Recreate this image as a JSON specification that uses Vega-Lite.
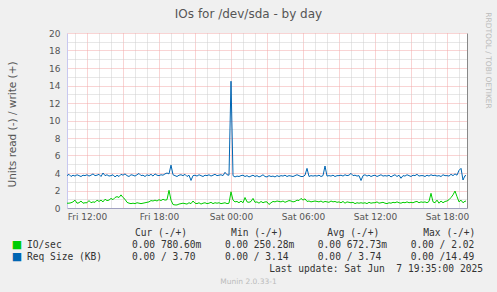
{
"$schema": "https://vega.github.io/schema/vega-lite/v6.json",
"width": 400, "height": 175,
"autosize": {"type": "none"},
"padding": {"left": 67, "top": 33, "right": 30, "bottom": 84},
"background": "#F0F0F0",
"config": {"font": "DejaVu Sans", "view": {"fill": "white", "stroke": null}},
"title": {"text": "IOs for /dev/sda - by day", "frame": "group", "anchor": "middle", "dx": -18.5, "fontSize": 12, "fontWeight": "normal", "color": "#555555", "font": "DejaVu Sans", "offset": -9},
"layer": [
{
"data": {"format": {"parse": {"t": "utc:'%Y-%m-%d %H:%M'"}}, "values": [
{"t":"2025-06-06 10:20","io":0.55,"rq":3.7},{"t":"2025-06-06 10:30","io":0.55,"rq":3.85},{"t":"2025-06-06 10:40","io":0.6,"rq":3.6},{"t":"2025-06-06 10:50","io":0.7,"rq":3.75},
{"t":"2025-06-06 11:00","io":0.9,"rq":3.65},{"t":"2025-06-06 11:10","io":0.55,"rq":3.8},{"t":"2025-06-06 11:20","io":0.6,"rq":3.7},{"t":"2025-06-06 11:30","io":0.8,"rq":3.6},{"t":"2025-06-06 11:40","io":0.55,"rq":3.75},{"t":"2025-06-06 11:50","io":0.6,"rq":3.7},
{"t":"2025-06-06 12:00","io":0.6,"rq":3.8},{"t":"2025-06-06 12:10","io":0.85,"rq":3.65},{"t":"2025-06-06 12:20","io":0.6,"rq":3.75},{"t":"2025-06-06 12:30","io":0.7,"rq":3.9},{"t":"2025-06-06 12:40","io":0.65,"rq":3.7},{"t":"2025-06-06 12:50","io":0.9,"rq":3.75},
{"t":"2025-06-06 13:00","io":0.75,"rq":3.85},{"t":"2025-06-06 13:10","io":0.9,"rq":3.6},{"t":"2025-06-06 13:20","io":0.7,"rq":4.0},{"t":"2025-06-06 13:30","io":1.0,"rq":3.7},{"t":"2025-06-06 13:40","io":0.85,"rq":3.8},{"t":"2025-06-06 13:50","io":0.9,"rq":3.65},
{"t":"2025-06-06 14:00","io":1.1,"rq":3.7},{"t":"2025-06-06 14:10","io":0.95,"rq":3.8},{"t":"2025-06-06 14:20","io":1.2,"rq":3.55},{"t":"2025-06-06 14:30","io":1.3,"rq":3.75},{"t":"2025-06-06 14:40","io":1.2,"rq":3.6},{"t":"2025-06-06 14:50","io":1.5,"rq":3.85},
{"t":"2025-06-06 15:00","io":1.2,"rq":3.75},{"t":"2025-06-06 15:10","io":1.0,"rq":3.9},{"t":"2025-06-06 15:20","io":0.65,"rq":3.7},{"t":"2025-06-06 15:30","io":0.55,"rq":3.6},{"t":"2025-06-06 15:40","io":0.5,"rq":3.8},{"t":"2025-06-06 15:50","io":0.55,"rq":3.75},
{"t":"2025-06-06 16:00","io":0.5,"rq":3.65},{"t":"2025-06-06 16:10","io":0.6,"rq":3.8},{"t":"2025-06-06 16:20","io":0.55,"rq":3.95},{"t":"2025-06-06 16:30","io":0.5,"rq":3.7},{"t":"2025-06-06 16:40","io":0.55,"rq":3.75},{"t":"2025-06-06 16:50","io":0.6,"rq":3.6},
{"t":"2025-06-06 17:00","io":0.65,"rq":3.8},{"t":"2025-06-06 17:10","io":0.7,"rq":3.7},{"t":"2025-06-06 17:20","io":0.85,"rq":3.85},{"t":"2025-06-06 17:30","io":0.8,"rq":3.65},{"t":"2025-06-06 17:40","io":0.9,"rq":3.9},{"t":"2025-06-06 17:50","io":0.8,"rq":3.75},
{"t":"2025-06-06 18:00","io":0.95,"rq":3.7},{"t":"2025-06-06 18:10","io":0.85,"rq":3.8},{"t":"2025-06-06 18:20","io":1.0,"rq":3.75},{"t":"2025-06-06 18:30","io":0.9,"rq":3.9},{"t":"2025-06-06 18:40","io":0.95,"rq":4.0},{"t":"2025-06-06 18:50","io":2.02,"rq":3.9},
{"t":"2025-06-06 19:00","io":0.9,"rq":4.9},{"t":"2025-06-06 19:10","io":0.4,"rq":3.8},{"t":"2025-06-06 19:20","io":0.35,"rq":3.7},{"t":"2025-06-06 19:30","io":0.35,"rq":3.6},{"t":"2025-06-06 19:40","io":0.45,"rq":3.75},{"t":"2025-06-06 19:50","io":0.5,"rq":3.8},
{"t":"2025-06-06 20:00","io":0.55,"rq":3.7},{"t":"2025-06-06 20:10","io":0.5,"rq":3.85},{"t":"2025-06-06 20:20","io":0.45,"rq":3.6},{"t":"2025-06-06 20:30","io":0.6,"rq":3.75},{"t":"2025-06-06 20:40","io":0.5,"rq":3.15},{"t":"2025-06-06 20:50","io":0.8,"rq":3.7},
{"t":"2025-06-06 21:00","io":0.55,"rq":3.75},{"t":"2025-06-06 21:10","io":0.5,"rq":3.65},{"t":"2025-06-06 21:20","io":0.6,"rq":3.8},{"t":"2025-06-06 21:30","io":0.45,"rq":3.7},{"t":"2025-06-06 21:40","io":0.55,"rq":3.6},{"t":"2025-06-06 21:50","io":0.6,"rq":3.75},
{"t":"2025-06-06 22:00","io":0.5,"rq":3.7},{"t":"2025-06-06 22:10","io":0.55,"rq":3.8},{"t":"2025-06-06 22:20","io":0.65,"rq":3.65},{"t":"2025-06-06 22:30","io":0.5,"rq":3.75},{"t":"2025-06-06 22:40","io":0.6,"rq":3.85},{"t":"2025-06-06 22:50","io":0.55,"rq":3.7},
{"t":"2025-06-06 23:00","io":0.6,"rq":3.75},{"t":"2025-06-06 23:10","io":0.5,"rq":3.8},{"t":"2025-06-06 23:20","io":0.55,"rq":3.7},{"t":"2025-06-06 23:30","io":0.6,"rq":4.08},{"t":"2025-06-06 23:40","io":0.5,"rq":3.8},{"t":"2025-06-06 23:50","io":0.55,"rq":3.75},
{"t":"2025-06-07 00:00","io":1.85,"rq":14.49},{"t":"2025-06-07 00:10","io":0.9,"rq":3.7},{"t":"2025-06-07 00:20","io":0.7,"rq":3.55},{"t":"2025-06-07 00:30","io":0.75,"rq":3.65},{"t":"2025-06-07 00:40","io":0.6,"rq":3.6},{"t":"2025-06-07 00:50","io":0.8,"rq":3.7},
{"t":"2025-06-07 01:00","io":0.6,"rq":3.75},{"t":"2025-06-07 01:10","io":1.2,"rq":3.6},{"t":"2025-06-07 01:20","io":0.7,"rq":3.7},{"t":"2025-06-07 01:30","io":0.65,"rq":3.55},{"t":"2025-06-07 01:40","io":0.75,"rq":3.65},{"t":"2025-06-07 01:50","io":1.1,"rq":3.75},
{"t":"2025-06-07 02:00","io":0.65,"rq":3.6},{"t":"2025-06-07 02:10","io":0.7,"rq":3.7},{"t":"2025-06-07 02:20","io":0.55,"rq":3.55},{"t":"2025-06-07 02:30","io":0.75,"rq":3.65},{"t":"2025-06-07 02:40","io":0.6,"rq":3.8},{"t":"2025-06-07 02:50","io":0.7,"rq":3.6},
{"t":"2025-06-07 03:00","io":0.7,"rq":3.55},{"t":"2025-06-07 03:10","io":0.4,"rq":3.7},{"t":"2025-06-07 03:20","io":0.6,"rq":3.6},{"t":"2025-06-07 03:30","io":0.75,"rq":3.65},{"t":"2025-06-07 03:40","io":0.7,"rq":3.55},{"t":"2025-06-07 03:50","io":0.8,"rq":3.7},
{"t":"2025-06-07 04:00","io":0.75,"rq":3.6},{"t":"2025-06-07 04:10","io":0.7,"rq":3.7},{"t":"2025-06-07 04:20","io":0.8,"rq":3.65},{"t":"2025-06-07 04:30","io":0.65,"rq":3.75},{"t":"2025-06-07 04:40","io":0.75,"rq":3.6},{"t":"2025-06-07 04:50","io":0.85,"rq":3.7},
{"t":"2025-06-07 05:00","io":0.8,"rq":3.65},{"t":"2025-06-07 05:10","io":0.7,"rq":3.6},{"t":"2025-06-07 05:20","io":0.75,"rq":3.7},{"t":"2025-06-07 05:30","io":0.9,"rq":3.8},{"t":"2025-06-07 05:40","io":0.85,"rq":3.7},{"t":"2025-06-07 05:50","io":1.1,"rq":3.6},
{"t":"2025-06-07 06:00","io":0.9,"rq":3.6},{"t":"2025-06-07 06:10","io":1.05,"rq":3.75},{"t":"2025-06-07 06:20","io":0.75,"rq":4.53},{"t":"2025-06-07 06:30","io":0.8,"rq":3.6},{"t":"2025-06-07 06:40","io":0.7,"rq":3.7},{"t":"2025-06-07 06:50","io":0.75,"rq":3.65},
{"t":"2025-06-07 07:00","io":0.8,"rq":3.7},{"t":"2025-06-07 07:10","io":0.75,"rq":3.65},{"t":"2025-06-07 07:20","io":0.7,"rq":3.75},{"t":"2025-06-07 07:30","io":0.8,"rq":3.6},{"t":"2025-06-07 07:40","io":0.65,"rq":3.7},{"t":"2025-06-07 07:50","io":0.75,"rq":4.8},
{"t":"2025-06-07 08:00","io":0.7,"rq":3.65},{"t":"2025-06-07 08:10","io":0.65,"rq":3.7},{"t":"2025-06-07 08:20","io":0.8,"rq":3.65},{"t":"2025-06-07 08:30","io":0.7,"rq":3.75},{"t":"2025-06-07 08:40","io":0.75,"rq":3.6},{"t":"2025-06-07 08:50","io":0.65,"rq":3.7},
{"t":"2025-06-07 09:00","io":0.7,"rq":3.7},{"t":"2025-06-07 09:10","io":0.6,"rq":3.75},{"t":"2025-06-07 09:20","io":0.75,"rq":3.65},{"t":"2025-06-07 09:30","io":0.55,"rq":3.8},{"t":"2025-06-07 09:40","io":0.7,"rq":3.7},{"t":"2025-06-07 09:50","io":0.65,"rq":3.75},
{"t":"2025-06-07 10:00","io":0.6,"rq":3.96},{"t":"2025-06-07 10:10","io":0.65,"rq":3.7},{"t":"2025-06-07 10:20","io":0.5,"rq":3.75},{"t":"2025-06-07 10:30","io":0.6,"rq":3.65},{"t":"2025-06-07 10:40","io":0.55,"rq":3.7},{"t":"2025-06-07 10:50","io":0.6,"rq":3.14},
{"t":"2025-06-07 11:00","io":0.55,"rq":3.7},{"t":"2025-06-07 11:10","io":0.6,"rq":3.8},{"t":"2025-06-07 11:20","io":0.5,"rq":3.65},{"t":"2025-06-07 11:30","io":0.65,"rq":3.75},{"t":"2025-06-07 11:40","io":0.55,"rq":3.6},{"t":"2025-06-07 11:50","io":0.6,"rq":3.7},
{"t":"2025-06-07 12:00","io":0.6,"rq":3.75},{"t":"2025-06-07 12:10","io":0.7,"rq":3.6},{"t":"2025-06-07 12:20","io":0.55,"rq":3.7},{"t":"2025-06-07 12:30","io":0.6,"rq":3.8},{"t":"2025-06-07 12:40","io":0.65,"rq":3.65},{"t":"2025-06-07 12:50","io":0.55,"rq":3.7},
{"t":"2025-06-07 13:00","io":0.5,"rq":3.65},{"t":"2025-06-07 13:10","io":0.6,"rq":3.75},{"t":"2025-06-07 13:20","io":0.55,"rq":3.55},{"t":"2025-06-07 13:30","io":0.65,"rq":3.7},{"t":"2025-06-07 13:40","io":0.6,"rq":3.8},{"t":"2025-06-07 13:50","io":0.7,"rq":3.6},
{"t":"2025-06-07 14:00","io":0.6,"rq":3.75},{"t":"2025-06-07 14:10","io":0.55,"rq":3.4},{"t":"2025-06-07 14:20","io":0.65,"rq":3.7},{"t":"2025-06-07 14:30","io":0.6,"rq":3.65},{"t":"2025-06-07 14:40","io":0.7,"rq":3.8},{"t":"2025-06-07 14:50","io":0.6,"rq":3.7},
{"t":"2025-06-07 15:00","io":0.65,"rq":3.6},{"t":"2025-06-07 15:10","io":0.6,"rq":3.75},{"t":"2025-06-07 15:20","io":0.7,"rq":3.7},{"t":"2025-06-07 15:30","io":0.75,"rq":3.85},{"t":"2025-06-07 15:40","io":0.6,"rq":3.65},{"t":"2025-06-07 15:50","io":0.7,"rq":3.7},
{"t":"2025-06-07 16:00","io":0.65,"rq":3.7},{"t":"2025-06-07 16:10","io":0.7,"rq":3.6},{"t":"2025-06-07 16:20","io":0.6,"rq":3.75},{"t":"2025-06-07 16:30","io":0.75,"rq":3.65},{"t":"2025-06-07 16:40","io":1.68,"rq":3.8},{"t":"2025-06-07 16:50","io":0.7,"rq":3.7},
{"t":"2025-06-07 17:00","io":0.6,"rq":3.75},{"t":"2025-06-07 17:10","io":0.9,"rq":3.65},{"t":"2025-06-07 17:20","io":0.55,"rq":3.7},{"t":"2025-06-07 17:30","io":0.8,"rq":3.6},{"t":"2025-06-07 17:40","io":0.6,"rq":3.8},{"t":"2025-06-07 17:50","io":0.75,"rq":3.7},
{"t":"2025-06-07 18:00","io":0.8,"rq":3.7},{"t":"2025-06-07 18:10","io":0.95,"rq":3.65},{"t":"2025-06-07 18:20","io":1.2,"rq":3.85},{"t":"2025-06-07 18:30","io":1.5,"rq":3.7},{"t":"2025-06-07 18:40","io":1.94,"rq":3.9},{"t":"2025-06-07 18:50","io":1.3,"rq":3.75},
{"t":"2025-06-07 19:00","io":0.7,"rq":4.3},{"t":"2025-06-07 19:10","io":0.9,"rq":4.53},{"t":"2025-06-07 19:20","io":0.6,"rq":3.2},{"t":"2025-06-07 19:30","io":0.78,"rq":3.7},{"t":"2025-06-07 19:35","io":0.78,"rq":3.7}
]},
"transform": [{"fold": ["io", "rq"], "as": ["series", "v"]}],
"layer": [
{
"mark": {"type": "line", "strokeWidth": 1, "interpolate": "linear"},
"encoding": {
"x": {"field": "t", "type": "temporal",
 "scale": {"type": "utc", "domain": [{"year": 2025, "month": 6, "date": 6, "hours": 10, "minutes": 20, "utc": true}, {"year": 2025, "month": 6, "date": 7, "hours": 19, "minutes": 40, "utc": true}], "nice": false},
 "axis": {"title": null,
  "values": [
   {"year": 2025, "month": 6, "date": 6, "hours": 11, "utc": true}, {"year": 2025, "month": 6, "date": 6, "hours": 12, "utc": true},
   {"year": 2025, "month": 6, "date": 6, "hours": 13, "utc": true}, {"year": 2025, "month": 6, "date": 6, "hours": 14, "utc": true},
   {"year": 2025, "month": 6, "date": 6, "hours": 15, "utc": true}, {"year": 2025, "month": 6, "date": 6, "hours": 16, "utc": true},
   {"year": 2025, "month": 6, "date": 6, "hours": 17, "utc": true}, {"year": 2025, "month": 6, "date": 6, "hours": 18, "utc": true},
   {"year": 2025, "month": 6, "date": 6, "hours": 19, "utc": true}, {"year": 2025, "month": 6, "date": 6, "hours": 20, "utc": true},
   {"year": 2025, "month": 6, "date": 6, "hours": 21, "utc": true}, {"year": 2025, "month": 6, "date": 6, "hours": 22, "utc": true},
   {"year": 2025, "month": 6, "date": 6, "hours": 23, "utc": true}, {"year": 2025, "month": 6, "date": 7, "hours": 0, "utc": true},
   {"year": 2025, "month": 6, "date": 7, "hours": 1, "utc": true}, {"year": 2025, "month": 6, "date": 7, "hours": 2, "utc": true},
   {"year": 2025, "month": 6, "date": 7, "hours": 3, "utc": true}, {"year": 2025, "month": 6, "date": 7, "hours": 4, "utc": true},
   {"year": 2025, "month": 6, "date": 7, "hours": 5, "utc": true}, {"year": 2025, "month": 6, "date": 7, "hours": 6, "utc": true},
   {"year": 2025, "month": 6, "date": 7, "hours": 7, "utc": true}, {"year": 2025, "month": 6, "date": 7, "hours": 8, "utc": true},
   {"year": 2025, "month": 6, "date": 7, "hours": 9, "utc": true}, {"year": 2025, "month": 6, "date": 7, "hours": 10, "utc": true},
   {"year": 2025, "month": 6, "date": 7, "hours": 11, "utc": true}, {"year": 2025, "month": 6, "date": 7, "hours": 12, "utc": true},
   {"year": 2025, "month": 6, "date": 7, "hours": 13, "utc": true}, {"year": 2025, "month": 6, "date": 7, "hours": 14, "utc": true},
   {"year": 2025, "month": 6, "date": 7, "hours": 15, "utc": true}, {"year": 2025, "month": 6, "date": 7, "hours": 16, "utc": true},
   {"year": 2025, "month": 6, "date": 7, "hours": 17, "utc": true}, {"year": 2025, "month": 6, "date": 7, "hours": 18, "utc": true},
   {"year": 2025, "month": 6, "date": 7, "hours": 19, "utc": true}],
  "labelExpr": "utchours(datum.value) % 6 == 0 ? utcFormat(datum.value, '%a %H:%M') : ''",
  "ticks": false, "tickSize": 0, "labelPadding": 4, "labelFont": "DejaVu Sans", "labelFontSize": 9, "labelColor": "#555555",
  "labelOverlap": false, "labelFlush": false, "labelBound": false,
  "domainColor": "#A0A0C0", "domainWidth": 1,
  "grid": true, "gridDash": [1, 1], "gridWidth": 1,
  "gridColor": {"condition": {"test": "utchours(datum.value) % 3 == 0", "value": "#F2A8A8"}, "value": "#CFCFCF"}}},
"y": {"field": "v", "type": "quantitative",
 "scale": {"domain": [0, 20], "nice": false, "zero": true},
 "axis": {"values": [0,1,2,3,4,5,6,7,8,9,10,11,12,13,14,15,16,17,18,19,20],
  "labelExpr": "datum.value % 2 == 0 ? datum.label : ''",
  "ticks": false, "tickSize": 0, "labelPadding": 7, "labelFont": "DejaVu Sans", "labelFontSize": 9, "labelColor": "#555555",
  "labelOverlap": false, "labelBound": false,
  "domainColor": "#C8C8F0", "domainWidth": 1,
  "grid": true, "gridDash": [1, 1], "gridWidth": 1,
  "gridColor": {"condition": {"test": "datum.value % 2 == 0", "value": "#F2A8A8"}, "value": "#CFCFCF"},
  "title": "Units read (-) / write (+)", "titleFont": "DejaVu Sans", "titleFontSize": 10.5, "titleFontWeight": "normal", "titleColor": "#555555",
  "titleAngle": -90, "titleX": -55, "titleY": 91, "titleAlign": "center", "titleBaseline": "middle"}},
"color": {"field": "series", "type": "nominal",
 "scale": {"domain": ["io", "rq"], "range": ["#00CC00", "#0066B3"]},
 "legend": null}
}
},
{
"mark": {"type": "line", "opacity": 0},
"encoding": {
"x": {"field": "t", "type": "temporal", "axis": null},
"y": {"field": "v", "type": "quantitative",
 "axis": {"orient": "right", "ticks": false, "labels": false, "grid": false, "domainColor": "#888888", "domainWidth": 1,
  "title": "RRDTOOL / TOBI OETIKER", "titleFont": "DejaVu Sans", "titleFontSize": 7.5, "titleFontWeight": "normal", "titleColor": "#BBBBBB",
  "titleAngle": 90, "titleX": 20, "titleY": 27, "titleAlign": "center", "titleBaseline": "middle"}},
"detail": {"field": "series"}
}
}
],
"resolve": {"axis": {"x": "independent", "y": "independent"}}
},
{
"layer": [
{
"data": {"values": [
{"stat": "Cur", "line": "io", "txt": "0.00 780.60m"},
{"stat": "Min", "line": "io", "txt": "0.00 250.28m"},
{"stat": "Avg", "line": "io", "txt": "0.00 672.73m"},
{"stat": "Max", "line": "io", "txt": "0.00 / 2.02"},
{"stat": "Cur", "line": "rq", "txt": "0.00 / 3.70"},
{"stat": "Min", "line": "rq", "txt": "0.00 / 3.14"},
{"stat": "Avg", "line": "rq", "txt": "0.00 / 3.74"},
{"stat": "Max", "line": "rq", "txt": "0.00 /14.49"}
]},
"mark": {"type": "text", "align": "left", "baseline": "middle", "font": "DejaVu Sans Mono", "fontSize": 9.6, "color": "#333333"},
"encoding": {
"x": {"field": "stat", "type": "nominal", "scale": {"type": "point", "domain": ["Cur", "Min", "Avg", "Max"], "range": [65, 343.7], "padding": 0}, "axis": null},
"y": {"field": "line", "type": "nominal", "scale": {"type": "point", "domain": ["hdr", "io", "rq", "upd", "ver"], "range": [200.3, 248.5], "padding": 0}, "axis": null},
"text": {"field": "txt"}
}
},
{
"data": {"values": [
{"stat": "Cur", "line": "hdr", "txt": "Cur (-/+)"},
{"stat": "Min", "line": "hdr", "txt": "Min (-/+)"},
{"stat": "Avg", "line": "hdr", "txt": "Avg (-/+)"},
{"stat": "Max", "line": "hdr", "txt": "Max (-/+)"}
]},
"mark": {"type": "text", "align": "left", "baseline": "middle", "font": "DejaVu Sans Mono", "fontSize": 9.6, "color": "#333333"},
"encoding": {
"x": {"field": "stat", "type": "nominal", "scale": {"type": "point", "domain": ["Cur", "Min", "Avg", "Max"], "range": [68, 356.3], "padding": 0}, "axis": null},
"y": {"field": "line", "type": "nominal", "axis": null},
"text": {"field": "txt"}
}
},
{
"data": {"values": [{"line": "io", "name": "IO/sec"}, {"line": "rq", "name": "Req Size (KB)"}]},
"layer": [
{
"mark": {"type": "text", "align": "center", "baseline": "middle", "dx": -250, "dy": 0, "font": "DejaVu Sans", "fontSize": 11},
"encoding": {
"y": {"field": "line", "type": "nominal", "axis": null},
"text": {"value": "\u25a0"},
"color": {"field": "line", "type": "nominal", "scale": {"domain": ["io", "rq"], "range": ["#00CC00", "#0066B3"]}, "legend": null}
}
},
{
"mark": {"type": "text", "align": "left", "baseline": "middle", "dx": -240, "font": "DejaVu Sans Mono", "fontSize": 9.6, "color": "#333333"},
"encoding": {
"y": {"field": "line", "type": "nominal", "axis": null},
"text": {"field": "name"}
}
}
]
},
{
"data": {"values": [{"line": "upd", "txt": "Last update: Sat Jun \u00a07 19:35:00 2025"}]},
"mark": {"type": "text", "align": "right", "baseline": "middle", "dx": 216, "font": "DejaVu Sans Mono", "fontSize": 9.6, "color": "#333333"},
"encoding": {
"y": {"field": "line", "type": "nominal", "axis": null},
"text": {"field": "txt"}
}
},
{
"data": {"values": [{"line": "ver", "txt": "Munin 2.0.33-1"}]},
"mark": {"type": "text", "align": "center", "baseline": "middle", "dx": -18.5, "font": "DejaVu Sans", "fontSize": 7.5, "color": "#BBBBBB"},
"encoding": {
"y": {"field": "line", "type": "nominal", "axis": null},
"text": {"field": "txt"}
}
}
],
"resolve": {"scale": {"x": "independent"}}
}
],
"resolve": {"scale": {"x": "independent", "y": "independent", "color": "independent"}, "axis": {"x": "independent", "y": "independent"}}
}
